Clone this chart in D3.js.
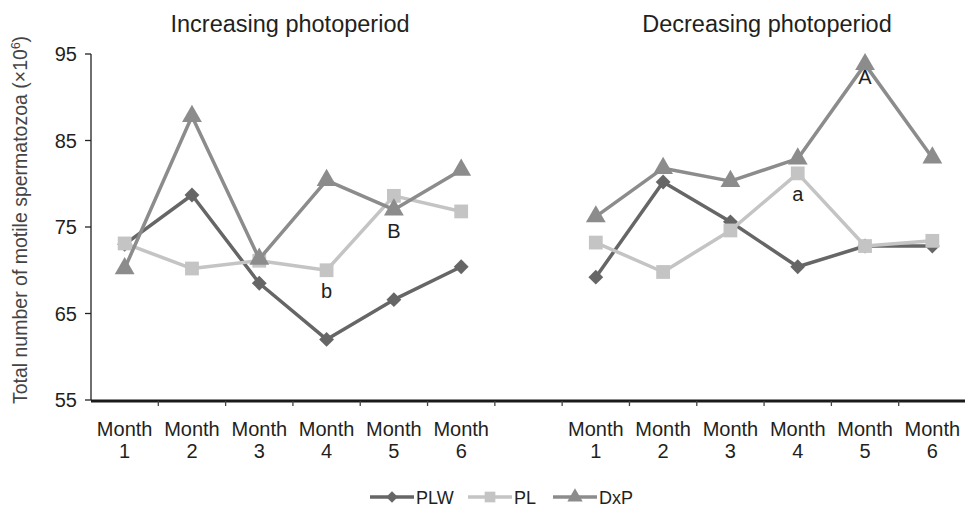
<!DOCTYPE html>
<html>
<head>
<meta charset="utf-8">
<script src="https://cdn.jsdelivr.net/npm/d3@7"></script>
<style>
  body { margin: 0; background: #fff; }
  text { font-family: "Liberation Sans", Arial, sans-serif; fill: #231f20; }
</style>
</head>
<body>
<script>
// months on each side of the gap
const months = ["1", "2", "3", "4", "5", "6"];
const yTicks = [55, 65, 75, 85, 95];

// increasing photoperiod
const incPLW = [73.0, 78.7, 68.5, 62.0, 66.6, 70.4];
const incPL  = [73.1, 70.2, 71.1, 70.0, 78.6, 76.8];
const incDxP = [70.2, 87.8, 71.3, 80.4, 77.0, 81.6];

// decreasing photoperiod
const decPLW = [69.2, 80.2, 75.6, 70.4, 72.8, 72.8];
const decPL  = [73.2, 69.8, 74.6, 81.2, 72.8, 73.4];
const decDxP = [76.2, 81.8, 80.3, 82.9, 93.8, 83.0];

const seriesNames = ["PLW", "PL", "DxP"];
const colors = {PLW: "#666666", PL: "#c4c4c4", DxP: "#8c8c8c"};

// significance letters: [side, series, month index, label]
const notes = [
  ["inc", "PL", 3, "b"],
  ["inc", "DxP", 4, "B"],
  ["dec", "PL", 3, "a"],
  ["dec", "DxP", 4, "A"]
];

const width = 965, height = 516;
const svg = d3.select("body").append("svg")
    .attr("width", width)
    .attr("height", height);

const keys = months.map(m => "inc" + m).concat(["gap"], months.map(m => "dec" + m));
const x = d3.scaleBand().domain(keys).range([91, 966]).padding(0);
const y = d3.scaleLinear().domain([55, 95]).range([400, 54]);
const cx = (side, i) => x(side + months[i]) + x.bandwidth() / 2;

// y axis
svg.append("line")
    .attr("x1", 91).attr("x2", 91)
    .attr("y1", y(95)).attr("y2", y(55))
    .attr("stroke", "#222").attr("stroke-width", 1.3);
svg.selectAll(".ytick")
    .data(yTicks)
    .enter()
    .append("line")
    .attr("x1", 85).attr("x2", 91)
    .attr("y1", d => y(d)).attr("y2", d => y(d))
    .attr("stroke", "#222").attr("stroke-width", 1.3);
svg.selectAll(".ylab")
    .data(yTicks)
    .enter()
    .append("text")
    .attr("x", 77)
    .attr("y", d => y(d) + 7)
    .attr("text-anchor", "end")
    .attr("font-size", 20)
    .text(d => d);

// x axis
svg.append("line")
    .attr("x1", 91).attr("x2", 966)
    .attr("y1", 401).attr("y2", 401)
    .attr("stroke", "#1a1a1a").attr("stroke-width", 3);
svg.selectAll(".xtick")
    .data(keys.slice(1).concat(["end"]))
    .enter()
    .append("line")
    .attr("x1", d => d === "end" ? 966 : x(d))
    .attr("x2", d => d === "end" ? 966 : x(d))
    .attr("y1", 401).attr("y2", 406)
    .attr("stroke", "#444").attr("stroke-width", 1.3);

["inc", "dec"].forEach(side => {
  const g = svg.append("g");
  g.selectAll("text")
    .data(months)
    .enter()
    .append("text")
    .attr("x", (d, i) => cx(side, i))
    .attr("y", 436)
    .attr("text-anchor", "middle")
    .attr("font-size", 20)
    .each(function (d) {
      const t = d3.select(this);
      t.append("tspan").attr("x", t.attr("x")).text("Month");
      t.append("tspan").attr("x", t.attr("x")).attr("dy", 22).text(d);
    });
});

// titles
svg.append("text")
    .attr("x", 290).attr("y", 32)
    .attr("text-anchor", "middle")
    .attr("font-size", 23.5)
    .text("Increasing photoperiod");
svg.append("text")
    .attr("x", 767).attr("y", 32)
    .attr("text-anchor", "middle")
    .attr("font-size", 23.5)
    .text("Decreasing photoperiod");

// y label
svg.append("text")
    .attr("transform", "translate(27," + 220 + ") rotate(-90)")
    .attr("text-anchor", "middle")
    .attr("font-size", 19.5)
    .style("fill", "#444")
    .text("Total number of motile spermatozoa (×10")
    .append("tspan")
    .attr("dy", -7)
    .attr("font-size", 12)
    .text("6")
    .select(function () { return this.parentNode; })
    .append("tspan")
    .attr("dy", 7)
    .text(")");

const symbols = {PLW: d3.symbolSquare, PL: d3.symbolSquare, DxP: d3.symbolTriangle};
const sizes = {PLW: 110, PL: 190, DxP: 170};
const rot = name => name === "PLW" ? " rotate(45)" : "";

const data = {
  inc: {PLW: incPLW, PL: incPL, DxP: incDxP},
  dec: {PLW: decPLW, PL: decPL, DxP: decDxP}
};

const line = side => d3.line()
    .x((d, i) => cx(side, i))
    .y(d => y(d));

seriesNames.forEach(name => {
  ["inc", "dec"].forEach(side => {
    const vals = data[side][name];
    svg.append("path")
        .datum(vals)
        .attr("d", line(side))
        .attr("fill", "none")
        .attr("stroke", colors[name])
        .attr("stroke-width", 3.5)
        .attr("stroke-linejoin", "round");
    svg.selectAll(".m-" + name + side)
        .data(vals)
        .enter()
        .append("path")
        .attr("d", d3.symbol().type(symbols[name]).size(sizes[name]))
        .attr("transform", (d, i) => "translate(" + cx(side, i) + "," + y(d) + ")" + rot(name))
        .attr("fill", colors[name]);
  });
});

// significance letters
svg.selectAll(".note")
    .data(notes)
    .enter()
    .append("text")
    .attr("x", d => cx(d[0], d[2]))
    .attr("y", d => y(data[d[0]][d[1]][d[2]]) + (d[3] === "A" ? 20 : 28))
    .attr("text-anchor", "middle")
    .attr("font-size", 20)
    .text(d => d[3]);

// legend
const legend = svg.append("g").attr("transform", "translate(0,497)");
const legendX = [370, 468, 553];
seriesNames.forEach((name, i) => {
  const lx = legendX[i];
  legend.append("line")
      .attr("x1", lx).attr("x2", lx + 44)
      .attr("stroke", colors[name]).attr("stroke-width", 3.5);
  legend.append("path")
      .attr("d", d3.symbol().type(symbols[name]).size(sizes[name] * 0.6))
      .attr("transform", "translate(" + (lx + 22) + ",0)" + rot(name))
      .attr("fill", colors[name]);
  legend.append("text")
      .attr("x", lx + 46).attr("y", 7)
      .attr("font-size", 18)
      .text(name);
});
</script>
</body>
</html>
